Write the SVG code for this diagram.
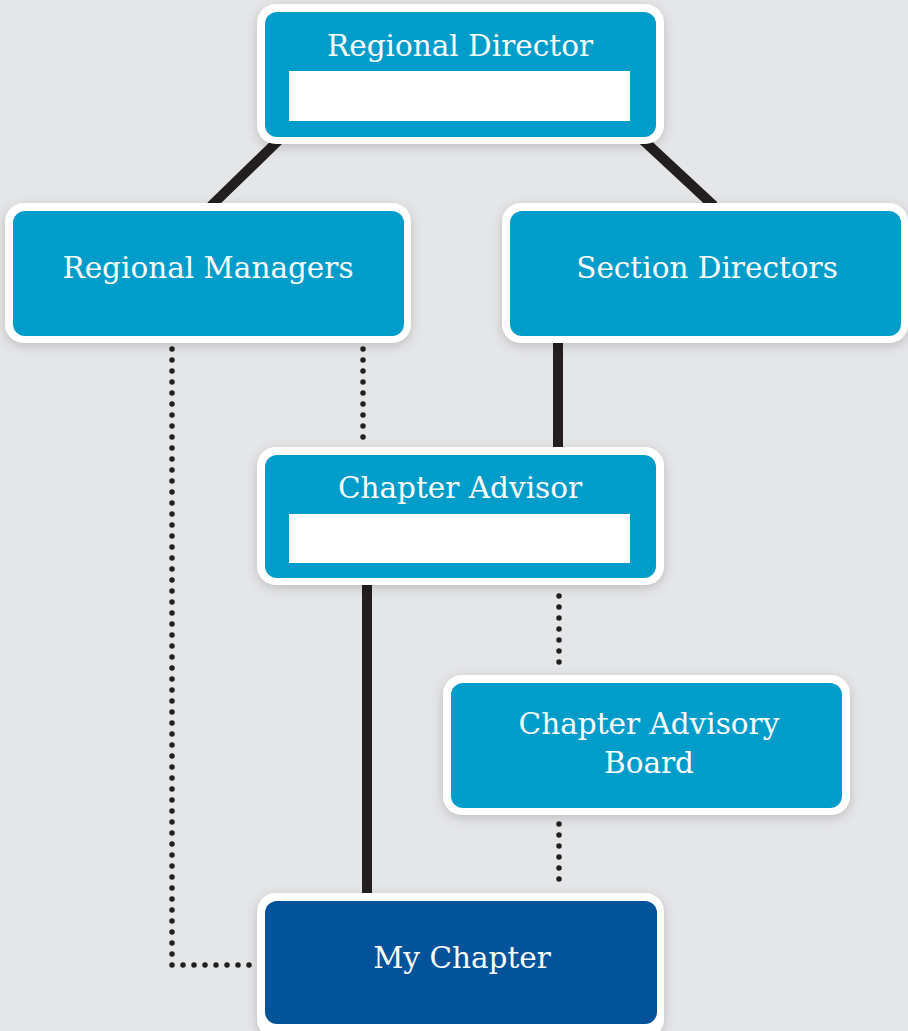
<svg xmlns="http://www.w3.org/2000/svg" width="908" height="1031" viewBox="0 0 908 1031">
<defs>
<style>
.outer{fill:#ffffff;filter:url(#sh)}
.inner{fill:#009cca}
.dark{fill:#02539a}
.slot{fill:#ffffff}
.lbl{font-family:"DejaVu Serif","Liberation Serif",serif;font-size:29.5px;fill:#ffffff;text-anchor:middle}
.solid{stroke:#231f20;stroke-width:10;fill:none}
.dot{stroke:#231f20;stroke-width:5.5;stroke-linecap:round;stroke-dasharray:0 11;fill:none}
</style>
<filter id="sh" x="-10%" y="-15%" width="120%" height="130%">
<feDropShadow dx="0" dy="3" stdDeviation="6" flood-color="#000" flood-opacity="0.18"/>
</filter>
</defs>
<rect width="908" height="1031" fill="#e5e6e8"/>
<g id="connectors">
<line class="solid" x1="279" y1="140" x2="211" y2="206"/>
<line class="solid" x1="643" y1="140" x2="714" y2="206"/>
<line class="solid" x1="558" y1="340" x2="558" y2="450"/>
<line class="solid" x1="367" y1="580" x2="367" y2="896"/>
<path class="dot" d="M172 349 L172 965 L252 965"/>
<line class="dot" x1="363" y1="349" x2="363" y2="447"/>
<line class="dot" x1="559" y1="596" x2="559" y2="672"/>
<line class="dot" x1="559" y1="824" x2="559" y2="888"/>
</g>
<g id="regional-director">
<rect class="outer" x="257" y="4" width="407" height="140" rx="19"/>
<rect class="inner" x="265" y="12" width="391" height="125" rx="12"/>
<rect class="slot" x="289" y="71" width="341" height="50"/>
<text class="lbl" x="460" y="56">Regional Director</text>
</g>
<g id="regional-managers">
<rect class="outer" x="5" y="203" width="406" height="140" rx="19"/>
<rect class="inner" x="13" y="211" width="391" height="125" rx="12"/>
<text class="lbl" x="208" y="278">Regional Managers</text>
</g>
<g id="section-directors">
<rect class="outer" x="502" y="203" width="406" height="140" rx="19"/>
<rect class="inner" x="510" y="211" width="391" height="125" rx="12"/>
<text class="lbl" x="707" y="278">Section Directors</text>
</g>
<g id="chapter-advisor">
<rect class="outer" x="257" y="447" width="407" height="138" rx="19"/>
<rect class="inner" x="265" y="455" width="391" height="123" rx="12"/>
<rect class="slot" x="289" y="514" width="341" height="49"/>
<text class="lbl" x="460" y="498">Chapter Advisor</text>
</g>
<g id="chapter-advisory-board">
<rect class="outer" x="443" y="675" width="407" height="140" rx="19"/>
<rect class="inner" x="451" y="683" width="391" height="125" rx="12"/>
<text class="lbl" x="649" y="734">Chapter Advisory</text>
<text class="lbl" x="649" y="773">Board</text>
</g>
<g id="my-chapter">
<rect class="outer" x="257" y="893" width="407" height="145" rx="19"/>
<rect class="dark" x="265" y="901" width="392" height="123" rx="12"/>
<text class="lbl" x="462" y="968">My Chapter</text>
</g>
</svg>
